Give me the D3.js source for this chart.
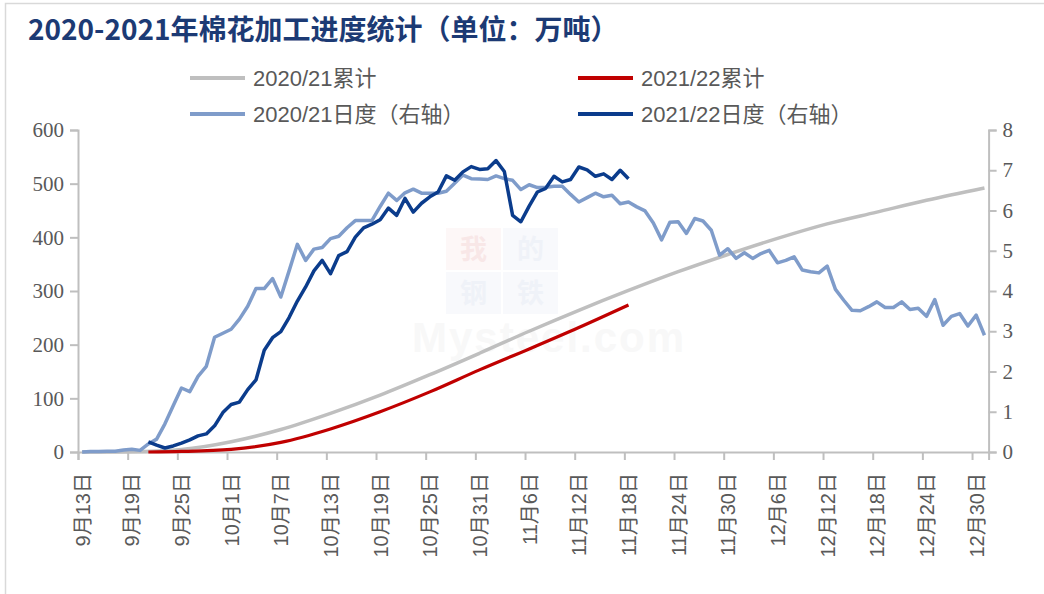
<!DOCTYPE html>
<html>
<head>
<meta charset="utf-8">
<script src="https://cdn.jsdelivr.net/npm/d3@7"></script>
<style>
  html, body { margin: 0; padding: 0; background: #ffffff; }
  svg { display: block; }
</style>
</head>
<body>
<script>
// ---------------- DATA ----------------
const titleText = "2020-2021年棉花加工进度统计（单位：万吨）";
const seriesNames = ["2020/21累计", "2021/22累计", "2020/21日度（右轴）", "2021/22日度（右轴）"];

// x-axis tick labels (every 6 days starting 9月13日, day index 0)
const tickLabels = ["9月13日","9月19日","9月25日","10月1日","10月7日","10月13日","10月19日",
  "10月25日","10月31日","11月6日","11月12日","11月18日","11月24日","11月30日","12月6日",
  "12月12日","12月18日","12月24日","12月30日"];
const tickDays = [0,6,12,18,24,30,36,42,48,54,60,66,72,78,84,90,96,102,108];
const dayCount = 110; // 9月13日 .. 12月31日

// 2020/21 daily processing (right axis), day 0 .. 109
const daily2021 = [
  0.00,0.01,0.01,0.02,0.02,0.05,0.07,0.04,0.20,0.32,
  0.70,1.15,1.59,1.50,1.88,2.13,2.85,2.95,3.05,3.30,
  3.62,4.06,4.06,4.31,3.85,4.50,5.16,4.76,5.04,5.08,
  5.30,5.36,5.57,5.75,5.75,5.75,6.10,6.43,6.25,6.44,
  6.53,6.43,6.43,6.43,6.48,6.68,6.88,6.79,6.78,6.77,
  6.86,6.79,6.75,6.52,6.64,6.57,6.58,6.60,6.60,6.40,
  6.21,6.32,6.43,6.34,6.38,6.17,6.21,6.09,5.99,5.69,
  5.27,5.71,5.72,5.43,5.80,5.74,5.51,4.89,5.05,4.81,
  4.95,4.81,4.93,5.01,4.70,4.76,4.85,4.52,4.48,4.45,
  4.62,4.04,3.77,3.52,3.51,3.61,3.73,3.59,3.59,3.73,
  3.54,3.57,3.37,3.79,3.15,3.37,3.44,3.13,3.40,2.90
];

// 2021/22 daily processing (right axis), starts at day 8 (9月21日)
const daily2122Start = 8;
const daily2122 = [
  0.25,0.17,0.10,0.15,0.22,0.30,0.40,0.45,0.65,0.98,
  1.18,1.24,1.55,1.79,2.53,2.84,2.99,3.34,3.75,4.10,
  4.50,4.76,4.43,4.88,4.98,5.34,5.57,5.66,5.77,6.06,
  5.88,6.30,5.96,6.18,6.34,6.46,6.86,6.75,6.96,7.09,
  7.02,7.04,7.24,6.97,5.88,5.72,6.11,6.46,6.55,6.85,
  6.71,6.77,7.08,7.01,6.85,6.91,6.77,7.00,6.79
];

// cumulative (left axis), read at tick days
const cum2021Days = [0,6,12,18,24,30,36,42,48,54,60,66,72,78,84,90,96,102,109];
const cum2021 =     [0,0.3,4.5,19,42,72,106,144,184,225,264,301,336,368,398,425,447,469,492];
const cum2122Days = [8,12,18,24,30,36,42,48,54,60,66];
const cum2122 =     [0,1,5,18,43,75,112,153,192,232,274];

const leftTicks = [0,100,200,300,400,500,600];
const rightTicks = [0,1,2,3,4,5,6,7,8];

// ---------------- CHART ----------------
const W = 1044, H = 594;
const svg = d3.select("body").append("svg").attr("width", W).attr("height", H);

const colors = { grayCum: "#bfbfbf", redCum: "#c00000", lightDaily: "#7f9cca", darkDaily: "#0b3c8c" };
const axisColor = "#bfbfbf";
const textColor = "#595959";

// border
svg.append("rect").attr("x", 5.5).attr("y", 3.5).attr("width", 1100).attr("height", 700)
  .attr("fill", "none").attr("stroke", "#d9d9d9").attr("stroke-width", 1.5);

// title
svg.append("text").attr("x", 28).attr("y", 40)
  .attr("font-family", "'Noto Sans CJK SC', 'Noto Sans', sans-serif")
  .attr("font-size", 28).attr("font-weight", 700).attr("fill", "#1c3a74")
  .text(titleText);

const plotL = 78, plotR = 988.6, plotT = 130, plotB = 452;
const x = d3.scaleLinear().domain([-0.5, dayCount - 0.5]).range([plotL, plotR]);
const yL = d3.scaleLinear().domain([0, 600]).range([plotB, plotT]);
const yR = d3.scaleLinear().domain([0, 8]).range([plotB, plotT]);

// faint watermark
const wm = svg.append("g").attr("opacity", 0.4);
const wmBoxes = [
  {t:"我", x:446, y:228, bg:"#fbecec", fg:"#f0c4c4"},
  {t:"的", x:503, y:228, bg:"#eef1f8", fg:"#d9e0ee"},
  {t:"钢", x:446, y:272, bg:"#eef1f8", fg:"#d9e0ee"},
  {t:"铁", x:503, y:272, bg:"#eef1f8", fg:"#d9e0ee"}
];
wmBoxes.forEach(b => {
  wm.append("rect").attr("x", b.x).attr("y", b.y).attr("width", 55).attr("height", 42).attr("fill", b.bg);
  wm.append("text").attr("x", b.x + 27.5).attr("y", b.y + 31).attr("text-anchor", "middle")
    .attr("font-family", "'Noto Sans CJK SC', sans-serif").attr("font-size", 27).attr("font-weight", 700)
    .attr("fill", b.fg).text(b.t);
});
wm.append("text").attr("x", 412).attr("y", 352)
  .attr("font-family", "'Liberation Sans', Arial, sans-serif").attr("font-size", 42).attr("font-weight", 700)
  .attr("fill", "#eeeeee").attr("letter-spacing", 2).text("Mysteel.com");

// axes
const gL = svg.append("g").attr("transform", `translate(${plotL},0)`)
  .call(d3.axisLeft(yL).tickValues(leftTicks).tickSize(8).tickPadding(6).tickFormat(d3.format("d")));
const gR = svg.append("g").attr("transform", `translate(${plotR},0)`)
  .call(d3.axisRight(yR).tickValues(rightTicks).tickSize(8).tickPadding(6).tickFormat(d3.format("d")));
const gB = svg.append("g").attr("transform", `translate(0,${plotB})`)
  .call(d3.axisBottom(x).tickValues(tickDays.map(d => d - 0.5)).tickSize(8)
    .tickFormat((d, i) => tickLabels[i]));

[gL, gR, gB].forEach(g => {
  g.select(".domain").attr("stroke", axisColor).attr("stroke-width", 2);
  g.selectAll(".tick line").attr("stroke", axisColor).attr("stroke-width", 2);
});
[gL, gR].forEach(g => {
  g.selectAll(".tick text").attr("fill", textColor)
    .attr("font-family", "'Liberation Serif', 'Times New Roman', serif").attr("font-size", 21);
});
gB.selectAll(".tick text")
  .attr("fill", textColor)
  .attr("font-family", "'Liberation Sans', Arial, 'Noto Sans CJK SC', sans-serif")
  .attr("font-size", 20)
  .attr("text-anchor", "end")
  .attr("transform", "rotate(-90)")
  .attr("x", -21).attr("y", 4).attr("dy", "0.35em");

// lines
const plot = svg.append("g");
const lineCum = d3.line().curve(d3.curveMonotoneX);
const lineDaily = d3.line();

plot.append("path")
  .attr("d", lineCum(cum2021Days.map((d, i) => [x(d), yL(cum2021[i])])))
  .attr("fill", "none").attr("stroke", colors.grayCum).attr("stroke-width", 3.5);
plot.append("path")
  .attr("d", lineCum(cum2122Days.map((d, i) => [x(d), yL(cum2122[i])])))
  .attr("fill", "none").attr("stroke", colors.redCum).attr("stroke-width", 3.2);
plot.append("path")
  .attr("d", lineDaily(daily2021.map((v, i) => [x(i), yR(v)])))
  .attr("fill", "none").attr("stroke", colors.lightDaily).attr("stroke-width", 3.5)
  .attr("stroke-linejoin", "round");
plot.append("path")
  .attr("d", lineDaily(daily2122.map((v, i) => [x(i + daily2122Start), yR(v)])))
  .attr("fill", "none").attr("stroke", colors.darkDaily).attr("stroke-width", 3.5)
  .attr("stroke-linejoin", "round");

// legend
const legendItems = [
  {name: seriesNames[0], color: colors.grayCum, lx: 190, ly: 78},
  {name: seriesNames[1], color: colors.redCum, lx: 578, ly: 78},
  {name: seriesNames[2], color: colors.lightDaily, lx: 190, ly: 114},
  {name: seriesNames[3], color: colors.darkDaily, lx: 578, ly: 114}
];
const lg = svg.append("g");
legendItems.forEach(it => {
  lg.append("line").attr("x1", it.lx).attr("x2", it.lx + 55).attr("y1", it.ly).attr("y2", it.ly)
    .attr("stroke", it.color).attr("stroke-width", 4);
  lg.append("text").attr("x", it.lx + 63).attr("y", it.ly).attr("dy", "0.36em")
    .attr("font-family", "'Liberation Sans', Arial, 'Noto Sans CJK SC', sans-serif")
    .attr("font-size", 22).attr("fill", textColor).text(it.name);
});
</script>
</body>
</html>
